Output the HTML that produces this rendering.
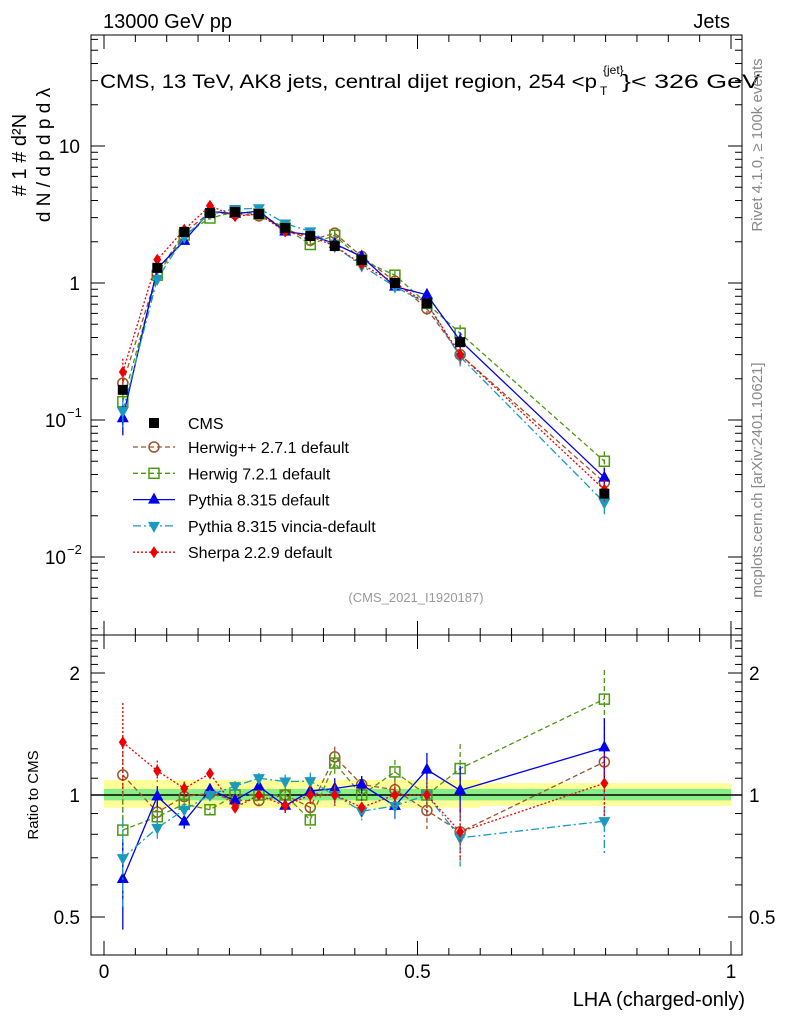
<!DOCTYPE html>
<html><head><meta charset="utf-8"><style>
body{margin:0;background:#fff;font-family:"Liberation Sans",sans-serif}
svg text{font-family:"Liberation Sans",sans-serif}
</style></head><body>
<svg id="c" width="786" height="1024" xmlns="http://www.w3.org/2000/svg"></svg>
<script>
const xVals=[0.030,0.085,0.128,0.169,0.209,0.247,0.289,0.329,0.368,0.411,0.464,0.515,0.568,0.798];
const cmsVals=[0.166,1.29,2.36,3.24,3.3,3.19,2.52,2.2,1.86,1.47,1.0,0.71,0.37,0.029];
const herwigppVals=[0.186,1.17,2.34,3.27,3.2,3.09,2.52,2.05,2.31,1.56,1.03,0.65,0.30,0.035];
const herwig7Vals=[0.136,1.14,2.24,2.98,3.3,3.19,2.52,1.91,2.23,1.47,1.14,0.71,0.43,0.050];
const pythiaVals=[0.103,1.28,2.03,3.34,3.2,3.35,2.37,2.25,1.93,1.56,0.94,0.82,0.38,0.038];
const vinciaVals=[0.116,1.07,2.17,3.24,3.47,3.51,2.72,2.38,1.86,1.34,0.94,0.71,0.29,0.025];
const sherpaVals=[0.224,1.48,2.45,3.66,3.07,3.19,2.37,2.2,1.86,1.37,1.0,0.71,0.30,0.031];
const relErr=[0.25,0.06,0.04,0.03,0.03,0.03,0.04,0.05,0.06,0.05,0.07,0.1,0.15,0.18];
const xTickLabels=["0","0.5","1"];
const ratioTickVals=[0.5,1,2];

const svg=document.getElementById('c');const NS="http://www.w3.org/2000/svg";
function el(t,a,p){const e=document.createElementNS(NS,t);for(const k in a)e.setAttribute(k,a[k]);(p||svg).appendChild(e);return e;}
const X=v=>104+v*627;
const Y=v=>283-137*Math.log10(v);
const R=v=>795-122*Math.log2(v);
const L=91,Rt=742;
let b=el('rect',{x:104,y:R(1.09),width:376,height:R(0.93)-R(1.09),fill:'#ffff99'});

b=el('rect',{x:480,y:R(1.07),width:251,height:R(0.94)-R(1.07),fill:'#ffff99'});

b=el('rect',{x:104,y:R(1.035),width:627,height:R(0.97)-R(1.035),fill:'#88ee88'});

el('line',{x1:L,x2:Rt,y1:R(1),y2:R(1),stroke:'#000','stroke-width':1.5});
let f=el('rect',{x:L,y:35,width:Rt-L,height:600,fill:'none',stroke:'#000'});

f=el('rect',{x:L,y:635,width:Rt-L,height:320,fill:'none',stroke:'#000'});

for(let i=0;i<=20;i++){const v=i*0.05,x=X(v),len=i%10==0?14:7;
 [[35,1],[635,-1],[635,1],[955,-1]].forEach(([y,d])=>el('line',{x1:x,x2:x,y1:y,y2:y+d*len,stroke:'#000'}));}
xTickLabels.forEach((s,i)=>{const t=el('text',{x:X(i*0.5),y:978,'font-size':19,'text-anchor':'middle'});t.textContent=s;
 });
for(let e=-3;e<=1;e++)for(let m=1;m<10;m++){const v=m*Math.pow(10,e),y=Y(v);if(y<35||y>635)continue;const len=m==1?14:7;
 el('line',{x1:L,x2:L+len,y1:y,y2:y,stroke:'#000'});el('line',{x1:Rt,x2:Rt-len,y1:y,y2:y,stroke:'#000'});}
[[10,'10'],[1,'1']].forEach(([v,s])=>{const t=el('text',{x:80,y:Y(v)+7,'font-size':19,'text-anchor':'end'});t.textContent=s;
 });
[[0.1,'−1'],[0.01,'−2']].forEach(([v,s])=>{const t=el('text',{x:66,y:Y(v)+7,'font-size':19,'text-anchor':'end'});t.textContent='10';
 
 const u=el('text',{x:67,y:Y(v)-3,'font-size':13});u.textContent=s;});
for(let k=5;k<=24;k++){const v=k/10,y=R(v);if(y<636)continue;const len=(k==5||k==10||k==20)?14:7;
 el('line',{x1:L,x2:L+len,y1:y,y2:y,stroke:'#000'});el('line',{x1:Rt,x2:Rt-len,y1:y,y2:y,stroke:'#000'});}
ratioTickVals.forEach(v=>{const s=String(v);let t=el('text',{x:80,y:R(v)+7,'font-size':19,'text-anchor':'end'});t.textContent=s;
 
 t=el('text',{x:749,y:R(v)+7,'font-size':19});t.textContent=s;});
function txt(x,y,s,a,name){const t=el('text',Object.assign({x:x,y:y},a));t.textContent=s;return t;}
txt(103,28,'13000 GeV pp',{'font-size':20},'process-label');
txt(730,28,'Jets',{'font-size':20,'text-anchor':'end'},'category-label');
txt(100,88,'CMS, 13 TeV, AK8 jets, central dijet region, 254 <p',{'font-size':19,textLength:497,lengthAdjust:'spacingAndGlyphs'},'plot-title');
txt(600,95,'T',{'font-size':12},'title-sub');txt(603,74,'{jet}',{'font-size':12},'title-sup');
txt(622,88,'}< 326 GeV',{'font-size':19,textLength:138,lengthAdjust:'spacingAndGlyphs'},'plot-title-end');
txt(416,602,'(CMS_2021_I1920187)',{'font-size':13,fill:'#999','text-anchor':'middle'},'analysis-id');
txt(745,1006,'LHA (charged-only)',{'font-size':20,'text-anchor':'end'},'x-axis-title');
txt(0,0,'Ratio to CMS',{'font-size':15,'text-anchor':'middle',transform:'translate(38,795) rotate(-90)'},'ratio-y-axis-title');
txt(0,0,'Rivet 4.1.0, ≥ 100k events',{'font-size':15,fill:'#888','text-anchor':'middle',transform:'translate(762,145) rotate(-90)'},'rivet-label');
txt(0,0,'mcplots.cern.ch [arXiv:2401.10621]',{'font-size':15,fill:'#888','text-anchor':'middle',transform:'translate(762,480) rotate(-90)'},'mcplots-label');
txt(0,0,'#          1                   #      d²N',{'font-size':20,'text-anchor':'middle',transform:'translate(26,155) rotate(-90)'},'y-axis-title-num');
txt(0,0,'d N / d p    d p    d λ',{'font-size':19,'text-anchor':'middle',transform:'translate(50,155) rotate(-90)'},'y-axis-title-den');
const series=[
 {name:'herwigpp',vals:herwigppVals,color:'#a0522d',dash:'5,3',mk:'circle',label:'Herwig++ 2.7.1 default'},
 {name:'herwig7',vals:herwig7Vals,color:'#4a9a10',dash:'5,3',mk:'square',label:'Herwig 7.2.1 default'},
 {name:'pythia',vals:pythiaVals,color:'#0000ee',dash:'',mk:'up',label:'Pythia 8.315 default'},
 {name:'vincia',vals:vinciaVals,color:'#1a9ac0',dash:'8,3,2,3',mk:'down',label:'Pythia 8.315 vincia-default'},
 {name:'sherpa',vals:sherpaVals,color:'#ee0000',dash:'2,2',mk:'diamond',label:'Sherpa 2.2.9 default'}];
function marker(g,mk,x,y,c){
 if(mk=='circle')el('circle',{cx:x,cy:y,r:5,fill:'none',stroke:c,'stroke-width':1.5},g);
 else if(mk=='square')el('rect',{x:x-5,y:y-5,width:10,height:10,fill:'none',stroke:c,'stroke-width':1.5},g);
 else if(mk=='up')el('polygon',{points:`${x},${y-7} ${x-6},${y+4} ${x+6},${y+4}`,fill:c},g);
 else if(mk=='down')el('polygon',{points:`${x},${y+7} ${x-6},${y-4} ${x+6},${y-4}`,fill:c},g);
 else if(mk=='diamond')el('polygon',{points:`${x},${y-6} ${x-4},${y} ${x},${y+6} ${x+4},${y}`,fill:c},g);
 else el('rect',{x:x-5,y:y-5,width:10,height:10,fill:c},g);}
series.forEach(s=>{
 const g=el('g',{});
 const pm=s.vals.map((v,i)=>X(xVals[i])+','+Y(v)).join(' ');
 el('polyline',{points:pm,fill:'none',stroke:s.color,'stroke-width':1.3,'stroke-dasharray':s.dash},g);
 const pr=s.vals.map((v,i)=>X(xVals[i])+','+R(v/cmsVals[i])).join(' ');
 el('polyline',{points:pr,fill:'none',stroke:s.color,'stroke-width':1.3,'stroke-dasharray':s.dash},g);
 s.vals.forEach((v,i)=>{const x=X(xVals[i]);const e=relErr[i];const r=v/cmsVals[i];
  el('line',{x1:x,x2:x,y1:Y(v*(1+e)),y2:Y(v*(1-e)),stroke:s.color,'stroke-width':1.3,'stroke-dasharray':s.dash},g);
  el('line',{x1:x,x2:x,y1:R(r*(1+e)),y2:R(r*(1-e)),stroke:s.color,'stroke-width':1.3,'stroke-dasharray':s.dash},g);
  marker(g,s.mk,x,Y(v),s.color);marker(g,s.mk,x,R(r),s.color);});
});
const cg=el('g',{});
cmsVals.forEach((v,i)=>{const x=X(xVals[i]);el('line',{x1:x,x2:x,y1:Y(v*1.08),y2:Y(v*0.92),stroke:'#000'},cg);marker(cg,'sq',x,Y(v),'#000');});
const lg=el('g',{});
let ly=423;
let le=el('g',{},lg);
marker(le,'sq',154,ly,'#000');let t=el('text',{x:188,y:ly+6,'font-size':16},le);t.textContent='CMS';
series.forEach((s,k)=>{const y=447+k*26.3;const e=el('g',{},lg);
 el('line',{x1:133,x2:175,y1:y,y2:y,stroke:s.color,'stroke-width':1.3,'stroke-dasharray':s.dash},e);
 marker(e,s.mk,154,y,s.color);const tt=el('text',{x:188,y:y+6,'font-size':16},e);tt.textContent=s.label;});
</script>
</body></html>
